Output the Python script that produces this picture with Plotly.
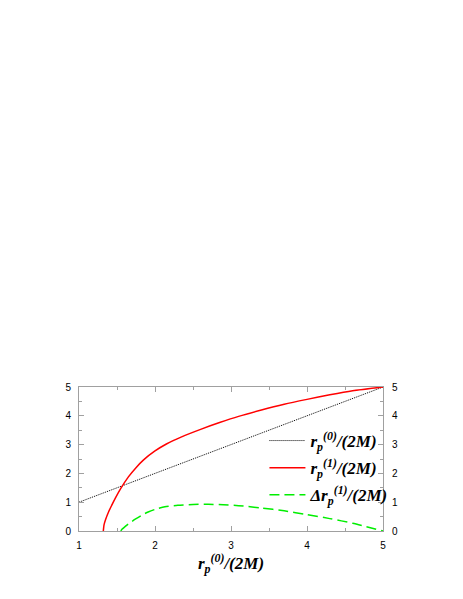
import plotly.graph_objects as go

# r_p^(0)/(2M) on the x axis
r0_x = [1.0, 5.0]
r0_y = [1.0, 5.0]

# r_p^(1)/(2M)
r1_x = [1.32, 1.33, 1.35, 1.39, 1.43, 1.48, 1.55, 1.65, 1.75, 1.85, 2.0, 2.15,
        2.35, 2.6, 2.85, 3.1, 3.4, 3.7, 4.0, 4.3, 4.6, 5.0]
r1_y = [0.0, 0.22, 0.40, 0.67, 0.89, 1.15, 1.48, 1.88, 2.20, 2.47, 2.78, 3.02,
        3.27, 3.53, 3.765, 3.98, 4.20, 4.40, 4.57, 4.73, 4.87, 5.0]

# Delta r_p^(1)/(2M)
dr_x = [1.55, 1.565, 1.605, 1.65, 1.74, 1.82, 1.91, 2.0, 2.13, 2.3, 2.5, 2.7,
        2.9, 3.1, 3.4, 3.7, 4.0, 4.3, 4.6, 5.0]
dr_y = [0.0, 0.06, 0.15, 0.245, 0.41, 0.54, 0.66, 0.75, 0.84, 0.895, 0.92, 0.93,
        0.91, 0.88, 0.80, 0.70, 0.57, 0.43, 0.27, 0.0]

ticks = [0, 1, 2, 3, 4, 5]
xticks = [1, 2, 3, 4, 5]

serif = dict(family="Liberation Serif", size=17, color="black")
sans = dict(family="Liberation Sans", size=10, color="black")
frame = "#a0a0a0"

fig = go.Figure()

fig.add_trace(go.Scatter(
    x=r0_x, y=r0_y, mode="lines",
    line=dict(color="black", width=1, dash="1px,1px"),
    name="<b><i>r<sub>p</sub><sup>(0)</sup>/(2M)</i></b>",
    legendgroup="a"))
fig.add_trace(go.Scatter(
    x=r1_x, y=r1_y, mode="lines",
    line=dict(color="red", width=1.5, shape="spline", smoothing=0.6),
    name="<b><i>r<sub>p</sub><sup>(1)</sup>/(2M)</i></b>",
    legendgroup="b"))
fig.add_trace(go.Scatter(
    x=dr_x, y=dr_y, mode="lines",
    line=dict(color="#00ee00", width=1.5, dash="10px,5px",
              shape="spline", smoothing=0.6),
    name="<b><i>\u0394r<sub>p</sub><sup>(1)</sup>/(2M)</i></b>",
    legendgroup="c"))
# same line again on the right axis so its labels get drawn
fig.add_trace(go.Scatter(
    x=r0_x, y=r0_y, yaxis="y2", mode="lines", opacity=0,
    showlegend=False, hoverinfo="skip"))

axis_common = dict(
    showgrid=False, zeroline=False, showline=True, linecolor=frame, linewidth=1,
    ticks="inside", ticklen=5, tickcolor=frame, tickfont=sans,
    ticklabelstandoff=5,
    minor=dict(dtick=0.5, ticks="inside", ticklen=3, tickcolor=frame),
)

fig.update_layout(
    width=463, height=599,
    margin=dict(l=71, r=88, t=379, b=76),
    plot_bgcolor="white", paper_bgcolor="white",
    showlegend=True,
    legend=dict(x=0.61, y=0.75, xanchor="left", yanchor="top",
                font=serif, bgcolor="rgba(0,0,0,0)", tracegroupgap=2,
                itemwidth=36),
    xaxis=dict(range=[1, 5], tickvals=xticks, mirror="ticks",
               title=dict(text="<b><i>r<sub>p</sub><sup>(0)</sup>/(2M)</i></b>",
                          font=serif, standoff=6),
               **axis_common),
    yaxis=dict(range=[0, 5], tickvals=ticks, mirror="ticks", **axis_common),
    yaxis2=dict(range=[0, 5], tickvals=ticks, overlaying="y", side="right",
                showgrid=False, zeroline=False, showline=False, ticks="",
                tickfont=sans, ticklabelstandoff=8),
)

fig.write_html("out.html")
